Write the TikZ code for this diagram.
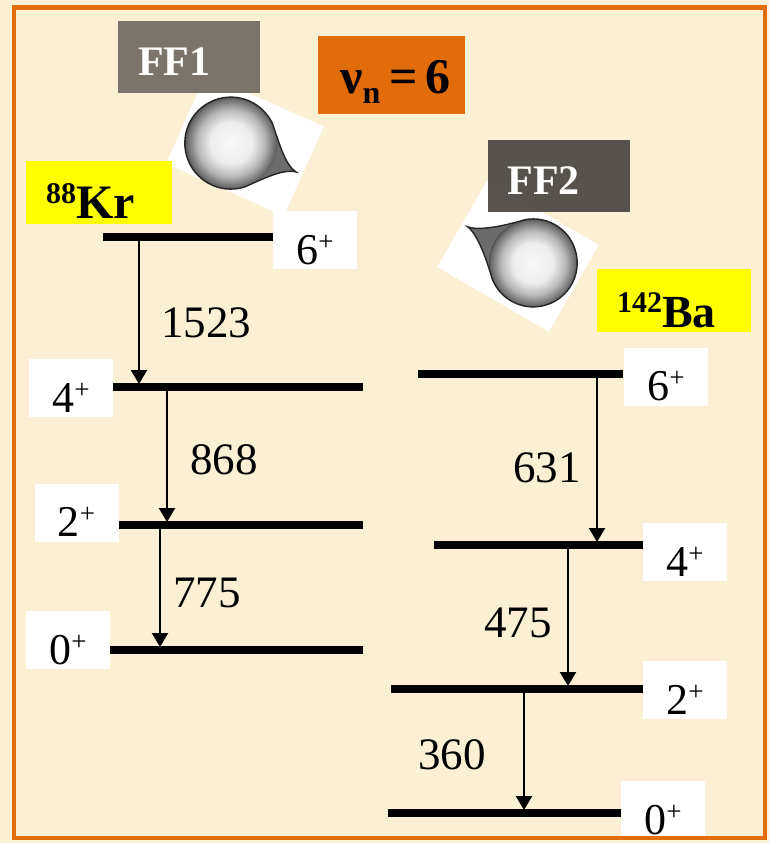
\documentclass[tikz,border=0pt]{standalone}
\usepackage{fontspec}
\setmainfont{Liberation Serif}
\usetikzlibrary{arrows.meta,positioning}
\definecolor{paper}{HTML}{FBEFD4}
\definecolor{frame}{HTML}{E36C0A}
\definecolor{ffgray}{HTML}{716A62}
\definecolor{ffdark}{HTML}{4A4540}
\definecolor{ionyellow}{HTML}{FFFF00}
\colorlet{dropin}{black!3}
\colorlet{dropmid}{black!7}
\colorlet{droprim}{black!28}
\colorlet{dropedge}{black!58}
\colorlet{dropout}{black!88}
\pgfdeclareradialshading{dropshade}{\pgfpointorigin}{color(0bp)=(dropin);
  color(10bp)=(dropmid); color(16bp)=(droprim); color(21bp)=(dropedge);
  color(24bp)=(dropout); color(50bp)=(dropout)}
\newcommand\spinpar[1]{#1\raisebox{14pt}{\fontsize{27}{27}\selectfont+}}
\newcommand\nucl[2]{\raisebox{15pt}{\fontsize{30}{30}\selectfont#1}#2}
\tikzset{
 lvl/.style={line width=8pt},
 gam/.style={line width=2.4pt,-{Triangle[width=16pt,length=14pt]},shorten >=3pt},
 egam/.style={inner sep=0pt,font=\fontsize{45}{45}\selectfont},
 jbox/.style={fill=white,minimum width=84pt,inner xsep=0pt,inner ysep=2pt,
              text height=51pt,text depth=3pt,font=\fontsize{44}{44}\selectfont},
 tagbox/.style={inner xsep=20pt,inner ysep=2pt,align=left},
 ffbox/.style={tagbox,inner ysep=5pt,text height=50pt,text depth=12pt,text width=102pt,
               text=white,fill opacity=.92,text opacity=1,
               font=\fontsize{42}{42}\selectfont\bfseries},
 nucbox/.style={tagbox,fill=ionyellow,text height=56pt,text depth=3pt,
                font=\fontsize{48}{48}\selectfont\bfseries},
 photo/.style={fill=white},
 drop/.style={insert path={(#1,0) .. controls ({#1-.3},.04) and (.9,.5) .. (.64,.77)
   arc[start angle=50,end angle=310,radius=1]
   .. controls (.9,-.5) and ({#1-.3},-.04) .. (#1,0) -- cycle}}
}

\begin{document}
\begin{tikzpicture}[x=1pt,y=-1pt]
 \useasboundingbox (0,0) rectangle (769,843);
 \fill[paper] (0,0) rectangle (769,843);

 \begin{scope}[shift={(245,145)},rotate=-24]
  \fill[photo] (-64.5,-49) rectangle (64.5,49);
 \end{scope}
 \begin{scope}[shift={(231,143)},rotate=-24,scale=46]
  \fill[black!58,drop=1.55];
  \begin{scope}
   \clip[drop=1.55];
   \shade[shading=dropshade] (0,0) circle[radius=1];
  \end{scope}
  \draw[black!85,line width=1.4pt,drop=1.55];
 \end{scope}

 \begin{scope}[shift={(518,256)},rotate=-30]
  \fill[photo] (-64.5,-50) rectangle (64.5,50);
 \end{scope}
 \begin{scope}[shift={(533,263)},rotate=151,scale=44]
  \fill[black!58,drop=1.7];
  \begin{scope}
   \clip[drop=1.7];
   \shade[shading=dropshade] (0,0) circle[radius=1];
  \end{scope}
  \draw[black!85,line width=1.4pt,drop=1.7];
 \end{scope}

 \node[ffbox,fill=ffgray] (ff1) at (189,57) {FF1};
 \node[ffbox,fill=ffdark] (ff2) at (558.5,175.5) {FF2};
 \node[fill=frame,inner xsep=0pt,inner ysep=5pt,minimum width=147pt,
       text height=52pt,text depth=16pt,font=\fontsize{50}{50}\selectfont\bfseries]
   (nu) at (391.5,75)
   {\hspace*{8pt}ν\raisebox{-10pt}{\fontsize{32}{32}\selectfont n}\hspace{9pt}=\hspace{8pt}6};
 \node[nucbox,text width=106pt] (kr) at (99,192) {\nucl{88}{Kr}};
 \node[nucbox,text width=114pt,font=\fontsize{46}{46}\selectfont\bfseries]
   (ba) at (674,300.5) {\nucl{142}{Ba}};

 \coordinate (kr6a) at (103,237); \coordinate (kr6b) at (273,237);
 \coordinate (kr4a) at (113,387); \coordinate (kr4b) at (363,387);
 \coordinate (kr2a) at (118,525); \coordinate (kr2b) at (363,525);
 \coordinate (kr0a) at (110,650); \coordinate (kr0b) at (363,650);
 \coordinate (ba6a) at (418,374); \coordinate (ba6b) at (623,374);
 \coordinate (ba4a) at (434,545); \coordinate (ba4b) at (643,545);
 \coordinate (ba2a) at (391,689); \coordinate (ba2b) at (643,689);
 \coordinate (ba0a) at (388,813); \coordinate (ba0b) at (621,813);
 \foreach \lv in {kr6,kr4,kr2,kr0,ba6,ba4,ba2,ba0}
  \draw[lvl] (\lv a) -- (\lv b);

 \coordinate (e1523) at (139,237);
 \coordinate (e868) at (167,387);
 \coordinate (e775) at (160,525);
 \coordinate (e631) at (597,374);
 \coordinate (e475) at (568,545);
 \coordinate (e360) at (524,689);
 \draw[gam] (e1523) -- node[egam,pos=.57,right=21pt] {1523} (e1523 |- kr4a);
 \draw[gam] (e868) -- node[egam,pos=.53,right=22pt] {868} (e868 |- kr2a);
 \draw[gam] (e775) -- node[egam,pos=.54,right=12pt] {775} (e775 |- kr0a);
 \draw[gam] (e631) -- node[egam,pos=.55,left=15pt] {631} (e631 |- ba4a);
 \draw[gam] (e475) -- node[egam,pos=.54,left=15pt] {475} (e475 |- ba2a);
 \draw[gam] (e360) -- node[egam,pos=.53,left=37pt] {360} (e360 |- ba0a);

 \node[jbox] (kr6j) at (315,240) {\spinpar{6}};
 \node[jbox] (kr4j) at (71,388) {\spinpar{4}};
 \node[jbox] (kr2j) at (76.5,512.5) {\spinpar{2}};
 \node[jbox] (kr0j) at (68,640) {\spinpar{0}};
 \node[jbox] (ba6j) at (666,376.5) {\spinpar{6}};
 \node[jbox] (ba4j) at (685,552) {\spinpar{4}};
 \node[jbox] (ba2j) at (685,690) {\spinpar{2}};
 \node[jbox] (ba0j) at (663,810) {\spinpar{0}};

 \draw[frame,line width=4.5pt] (14,7.5) rectangle (765,838);
\end{tikzpicture}
\end{document}
